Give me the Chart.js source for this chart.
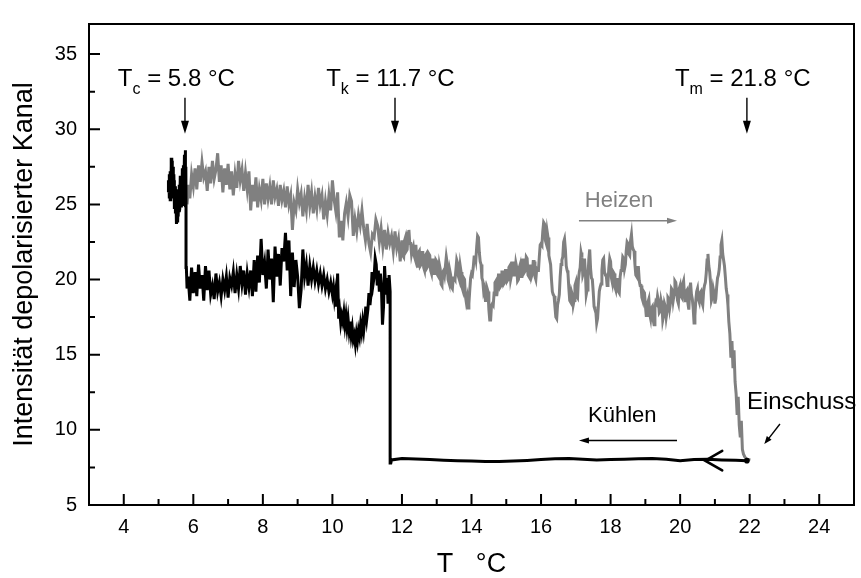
<!DOCTYPE html>
<html>
<head>
<meta charset="utf-8">
<script src="https://cdn.jsdelivr.net/npm/chart.js@4/dist/chart.umd.min.js"></script>
<style>
html,body{margin:0;padding:0;background:#fff;}
#wrap{width:861px;height:578px;position:relative;}
</style>
</head>
<body>
<div id="wrap"><canvas id="c" width="861" height="578"></canvas></div>
<script>
// ---- data ----
const xTickValues = [4,6,8,10,12,14,16,18,20,22,24];
const xMinorTicks = [5,7,9,11,13,15,17,19,21,23];
const yTickValues = [5,10,15,20,25,30,35];
const yMinorTicks = [7.5,12.5,17.5,22.5,27.5,32.5];

// Heizen (heating, grey)
const heatT = [5.82,5.86,5.90,5.95,6.00,6.05,6.10,6.15,6.20,6.25,6.30,6.35,6.40,6.45,6.50,6.55,6.60,6.65,6.70,6.75,6.80,6.85,6.90,6.95,7.00,7.05,7.10,7.15,7.20,7.25,7.30,7.35,7.40,7.45,7.50,7.55,7.60,7.65,7.70,7.75,7.80,7.85,7.90,7.95,8.00,8.05,8.10,8.15,8.20,8.25,8.30,8.35,8.40,8.45,8.50,8.55,8.60,8.65,8.70,8.75,8.80,8.85,8.90,8.95,9.00,9.05,9.10,9.15,9.20,9.25,9.30,9.35,9.40,9.45,9.50,9.55,9.60,9.65,9.70,9.75,9.80,9.85,9.90,9.95,10.00,10.05,10.10,10.15,10.20,10.25,10.30,10.35,10.40,10.45,10.50,10.55,10.60,10.65,10.70,10.75,10.80,10.85,10.90,10.95,11.00,11.05,11.10,11.15,11.20,11.25,11.30,11.35,11.40,11.45,11.50,11.55,11.60,11.65,11.70,11.75,11.80,11.85,11.90,11.95,
12.000,12.025,12.050,12.075,12.100,12.125,12.150,12.175,12.200,12.225,12.250,12.275,12.300,12.325,12.350,12.375,12.400,12.425,12.450,12.475,12.500,12.525,12.550,12.575,12.600,12.625,12.650,12.675,12.700,12.725,12.750,12.775,12.800,12.825,12.850,12.875,12.900,12.925,12.950,12.975,
13.000,13.025,13.050,13.075,13.100,13.125,13.150,13.175,13.200,13.225,13.250,13.275,13.300,13.325,13.350,13.375,13.400,13.425,13.450,13.475,13.500,13.525,13.550,13.575,13.600,13.625,13.650,13.675,13.700,13.725,13.750,13.775,13.800,13.825,13.850,13.875,13.900,13.925,13.950,13.975,
14.000,14.025,14.050,14.075,14.100,14.125,14.150,14.175,14.200,14.225,14.250,14.275,14.300,14.325,14.350,14.375,14.400,14.425,14.450,14.475,14.500,14.525,14.550,14.575,14.600,14.625,14.650,14.675,14.700,14.725,14.750,14.775,14.800,14.825,14.850,14.875,14.900,14.925,14.950,14.975,
15.000,15.025,15.050,15.075,15.100,15.125,15.150,15.175,15.200,15.225,15.250,15.275,15.300,15.325,15.350,15.375,15.400,15.425,15.450,15.475,15.500,15.525,15.550,15.575,15.600,15.625,15.650,15.675,15.700,15.725,15.750,15.775,15.800,15.825,15.850,15.875,15.900,15.925,15.950,15.975,
16.000,16.025,16.050,16.075,16.100,16.125,16.150,16.175,16.200,16.225,16.250,16.275,16.300,16.325,16.350,16.375,16.400,16.425,16.450,16.475,16.500,16.525,16.550,16.575,16.600,16.625,16.650,16.675,16.700,16.725,16.750,16.775,16.800,16.825,16.850,16.875,16.900,16.925,16.950,16.975,
17.000,17.025,17.050,17.075,17.100,17.125,17.150,17.175,17.200,17.225,17.250,17.275,17.300,17.325,17.350,17.375,17.400,17.425,17.450,17.475,17.500,17.525,17.550,17.575,17.600,17.625,17.650,17.675,17.700,17.725,17.750,17.775,17.800,17.825,17.850,17.875,17.900,17.925,17.950,17.975,
18.000,18.025,18.050,18.075,18.100,18.125,18.150,18.175,18.200,18.225,18.250,18.275,18.300,18.325,18.350,18.375,18.400,18.425,18.450,18.475,18.500,18.525,18.550,18.575,18.600,18.625,18.650,18.675,18.700,18.725,18.750,18.775,18.800,18.825,18.850,18.875,18.900,18.925,18.950,18.975,
19.000,19.025,19.050,19.075,19.100,19.125,19.150,19.175,19.200,19.225,19.250,19.275,19.300,19.325,19.350,19.375,19.400,19.425,19.450,19.475,19.500,19.525,19.550,19.575,19.600,19.625,19.650,19.675,19.700,19.725,19.750,19.775,19.800,19.825,19.850,19.875,19.900,19.925,19.950,19.975,
20.000,20.025,20.050,20.075,20.100,20.125,20.150,20.175,20.200,20.225,20.250,20.275,20.300,20.325,20.350,20.375,20.400,20.425,20.450,20.475,20.500,20.525,20.550,20.575,20.600,20.625,20.650,20.675,20.700,20.725,20.750,20.775,20.800,20.825,20.850,20.875,20.900,20.925,20.950,20.975,
21.000,21.025,21.050,21.075,21.100,21.125,21.150,21.175,21.200,21.225,21.250,21.275,21.300,21.325,21.350,21.375,21.400,21.43,21.46,21.49,21.52,21.55,21.58,21.61,21.64,21.67,21.70,21.73,21.76,21.79,21.82,21.86,21.92,22.02];
const heatI = [25.0,26.3,25.4,27.0,26.2,27.4,26.0,27.6,26.5,27.8,26.8,27.2,25.9,27.5,26.4,27.9,26.7,27.3,28.4,26.5,27.6,25.8,27.4,26.3,27.7,26.0,27.2,25.6,27.0,26.1,27.9,26.6,27.3,25.9,27.1,26.0,27.2,24.6,26.3,25.2,26.8,24.8,26.0,25.3,26.7,25.0,26.4,25.4,26.2,25.0,26.6,25.5,26.0,24.9,26.3,25.3,25.9,24.8,26.2,25.0,25.6,23.3,25.1,24.6,26.0,25.1,25.7,24.2,25.4,24.6,26.3,24.9,25.8,24.4,25.5,24.7,26.1,25.0,25.6,24.0,25.2,24.3,25.6,24.6,26.6,25.3,24.5,25.8,22.8,23.9,22.6,24.4,25.1,24.2,25.6,25.2,22.9,24.0,23.2,24.3,23.6,24.6,23.4,22.6,23.7,22.4,21.8,23.0,22.8,24.0,23.6,22.5,23.4,22.2,23.3,22.0,23.1,22.4,22.9,21.9,23.2,22.1,22.7,21.2,
22.6,21.6,21.5,22.6,22.8,21.9,22.0,23.1,23.3,22.4,22.4,21.7,22.0,22.2,21.6,21.4,22.3,21.3,20.8,21.8,21.9,20.9,21.0,21.8,21.8,20.8,20.6,21.6,21.7,20.8,20.9,21.7,21.6,20.6,20.4,21.3,21.3,20.4,20.5,21.3,
21.2,20.3,20.2,21.0,20.7,19.7,19.6,20.5,20.6,20.3,20.9,21.5,21.1,20.0,19.8,20.6,20.3,19.5,19.4,20.1,20.1,20.0,20.6,21.3,21.1,20.2,20.0,20.9,20.5,19.5,19.3,20.1,20.0,18.9,18.5,18.8,18.1,18.4,19.3,20.1,
20.4,20.3,20.8,21.5,21.6,21.3,22.2,22.9,22.8,21.8,21.2,21.0,20.1,19.9,19.2,19.4,18.6,18.6,19.4,19.2,18.0,17.3,17.3,18.3,18.4,18.3,19.1,19.8,19.9,18.9,19.4,20.3,20.3,19.5,19.6,20.5,20.5,19.7,19.8,20.6,
20.6,19.9,20.0,20.8,20.9,20.0,20.3,21.1,21.1,20.3,20.4,21.1,20.8,19.9,20.0,20.8,21.0,20.2,20.5,21.3,21.3,20.5,20.6,21.5,21.4,20.3,20.2,20.9,20.9,20.2,20.4,21.2,21.2,20.2,20.0,20.7,20.6,20.6,21.5,22.3,
22.4,22.3,23.2,23.8,23.7,22.6,22.4,23.2,22.8,21.6,21.3,21.0,20.0,19.2,19.0,18.9,18.2,17.5,17.4,18.3,18.6,19.0,20.2,21.0,21.3,21.5,22.5,22.7,22.0,20.9,20.6,20.4,19.4,18.6,18.5,19.2,19.0,18.3,18.6,19.6,
19.8,18.9,18.8,20.0,20.5,20.8,21.8,21.5,20.3,20.5,21.4,20.5,19.0,19.3,20.2,21.4,22.0,20.7,20.1,20.0,19.2,18.2,18.0,17.9,17.1,17.4,18.3,19.2,19.5,19.7,20.6,21.3,21.4,20.5,20.3,20.3,19.6,19.8,20.8,21.4,
21.2,20.1,19.8,20.5,20.4,19.5,19.3,20.0,20.0,19.2,19.1,20.2,20.6,20.8,21.5,21.4,20.7,21.0,21.9,22.5,22.4,21.7,21.6,22.6,23.0,22.2,22.0,21.9,21.0,20.3,20.2,20.8,20.8,19.9,19.6,19.6,18.8,18.6,19.2,19.1,
18.3,17.6,17.6,18.5,18.7,17.7,17.4,18.1,18.2,17.3,17.0,18.1,18.5,18.4,18.9,18.6,17.8,17.9,18.6,18.3,17.3,17.6,18.4,18.2,17.5,17.9,18.8,18.7,18.1,18.5,19.4,19.3,18.6,19.0,19.9,19.8,19.2,18.6,18.4,19.4,
19.6,18.9,18.8,19.7,19.9,19.0,18.5,19.2,19.3,18.4,18.0,19.2,19.8,19.0,18.7,18.1,17.1,17.6,18.6,19.2,19.4,18.7,18.5,19.1,19.2,18.5,18.3,19.2,19.6,19.8,20.4,21.3,21.7,20.9,20.5,19.8,18.6,18.8,19.4,19.1,
18.4,18.7,19.5,20.1,20.3,20.7,21.5,22.3,22.6,21.7,21.3,20.9,20.2,19.4,19.0,18.3,17.2,16.4,14.8,15.9,14.1,15.3,13.2,12.4,11.0,12.2,10.3,9.5,10.6,8.7,8.4,8.2,8.05,8.0];

// Kühlen (cooling, black) - in measurement order, from 22 °C downwards
const coolT = [21.92,21.6,21.2,20.8,20.4,20.0,19.6,19.2,18.8,18.4,18.0,17.6,17.2,16.8,16.4,16.0,15.6,15.2,14.8,14.4,14.0,13.6,13.2,12.8,12.4,12.0,11.70,11.68,11.66,11.63,11.60,11.57,11.54,11.50,11.47,11.44,11.41,11.38,11.35,11.32,11.29,11.26,11.23,11.20,11.17,11.14,11.11,11.08,11.05,11.02,10.99,10.96,10.93,10.90,10.87,10.84,10.81,10.78,10.75,10.72,10.69,10.66,10.63,10.60,10.57,10.54,10.51,10.48,10.45,10.42,10.39,10.36,10.33,10.30,10.27,10.24,10.21,10.18,10.15,10.12,10.09,10.06,10.03,10.00,9.95,9.90,9.85,9.80,9.75,9.70,9.65,9.60,9.55,9.50,9.45,9.40,9.35,9.30,9.25,9.20,9.15,9.10,9.05,9.00,8.95,8.90,8.85,8.80,8.75,8.70,8.65,8.60,8.55,8.50,8.45,8.40,8.35,8.30,8.25,8.20,8.15,8.10,8.05,8.00,7.95,7.90,7.85,7.80,7.75,7.70,7.65,7.60,7.55,7.50,7.45,7.40,7.35,7.30,7.25,7.20,7.15,7.10,7.05,7.00,6.95,6.90,6.85,6.80,6.75,6.70,6.65,6.60,6.55,6.50,6.45,6.40,6.35,6.30,6.25,6.20,6.15,6.10,6.05,6.00,5.95,5.90,5.85,5.82,5.80,5.79,
5.785,5.78,5.775,5.77,5.765,5.76,5.755,5.75,5.745,5.74,5.735,5.73,5.72,5.71,5.70,5.69,5.68,5.67,5.66,5.65,5.64,5.63,5.62,5.61,5.60,5.59,5.58,5.57,5.56,5.55,5.54,5.53,5.52,5.51,5.50,5.49,5.48,5.47,5.46,5.45,5.44,5.43,5.42,5.41,5.40,5.39,5.38,5.37,5.36,5.35,5.34,5.33,5.32,5.31,5.30,5.29,5.28];
const coolI = [7.95,7.97,8.0,8.05,8.02,7.95,8.05,8.1,8.08,8.05,8.02,8.0,8.05,8.1,8.08,8.02,7.96,7.92,7.9,7.9,7.92,7.95,7.98,8.02,8.06,8.1,8.0,7.8,19.2,20.3,18.4,20.1,19.0,20.9,18.2,17.0,19.5,20.4,19.2,20.6,19.6,21.0,21.4,20.2,19.7,20.5,19.0,18.3,19.1,18.0,17.4,18.2,17.3,16.6,17.2,16.5,17.0,16.2,16.6,15.9,16.4,15.7,16.3,16.0,16.8,16.3,17.2,16.6,17.4,16.8,17.6,17.0,17.8,17.2,17.6,17.1,17.9,17.4,20.4,18.2,19.2,18.7,19.5,19.0,19.8,19.2,20.0,19.4,20.3,19.6,20.4,19.7,20.6,19.9,20.8,20.0,20.9,19.6,21.0,20.2,22.0,19.3,18.1,20.2,21.3,19.5,21.8,18.9,22.6,20.6,23.1,21.2,22.1,19.6,21.7,20.2,22.2,18.5,21.4,20.0,22.0,19.4,21.1,20.3,22.7,19.8,21.6,19.2,21.3,18.9,20.6,19.5,20.4,19.0,20.6,19.7,20.9,19.4,20.3,19.1,20.5,19.6,20.1,18.8,20.2,19.3,20.0,18.9,19.8,19.2,20.4,18.7,19.6,19.0,20.6,19.3,20.9,18.6,20.3,19.4,21.0,18.9,20.5,19.1,20.8,18.6,20.2,19.4,20.8,25.2,
27.5,24.8,28.2,25.6,28.6,26.0,27.4,24.9,27.9,25.3,28.3,26.2,27.6,25.0,27.1,25.8,27.4,25.2,26.7,24.8,26.5,25.4,26.9,24.7,26.3,24.5,26.0,24.2,25.6,23.9,25.3,24.1,25.8,23.7,25.5,24.4,26.2,24.8,26.6,25.0,27.0,25.4,27.5,25.8,27.9,26.1,28.1,25.7,27.6,25.3,27.2,25.6,27.0,25.4,26.6,25.8,26.4];

// annotation data
const markerT = [5.76, 11.80, 21.92];
const markerSub = ['c', 'k', 'm'];
const markerVal = ['5.8', '11.7', '21.8'];
const markerTextT = [3.83, 9.82, 19.85];

const FONT = '"Liberation Sans", Arial, Helvetica, sans-serif';
const GREY = 'rgb(128,128,128)';

function arrow(ctx, x1, y1, x2, y2, color, lw, hl, hw) {
  const ang = Math.atan2(y2 - y1, x2 - x1);
  ctx.save();
  ctx.strokeStyle = color; ctx.fillStyle = color; ctx.lineWidth = lw;
  ctx.beginPath();
  ctx.moveTo(x1, y1);
  ctx.lineTo(x2 - Math.cos(ang) * hl * 0.8, y2 - Math.sin(ang) * hl * 0.8);
  ctx.stroke();
  ctx.beginPath();
  ctx.moveTo(x2, y2);
  ctx.lineTo(x2 - Math.cos(ang) * hl - Math.sin(ang) * hw, y2 - Math.sin(ang) * hl + Math.cos(ang) * hw);
  ctx.lineTo(x2 - Math.cos(ang) * hl + Math.sin(ang) * hw, y2 - Math.sin(ang) * hl - Math.cos(ang) * hw);
  ctx.closePath();
  ctx.fill();
  ctx.restore();
}

const decor = {
  id: 'decor',
  afterDatasetsDraw(chart) {
    const {ctx, chartArea: a, scales: {x, y}} = chart;
    const px = v => x.getPixelForValue(v), py = v => y.getPixelForValue(v);
    ctx.save();
    ctx.strokeStyle = '#000'; ctx.lineWidth = 2;
    ctx.strokeRect(a.left, a.top, a.right - a.left, a.bottom - a.top);
    ctx.beginPath();
    xTickValues.forEach(v => { ctx.moveTo(px(v), a.bottom); ctx.lineTo(px(v), a.bottom - 11); });
    xMinorTicks.forEach(v => { ctx.moveTo(px(v), a.bottom); ctx.lineTo(px(v), a.bottom - 6); });
    yTickValues.forEach(v => { ctx.moveTo(a.left, py(v)); ctx.lineTo(a.left + 11, py(v)); });
    yMinorTicks.forEach(v => { ctx.moveTo(a.left, py(v)); ctx.lineTo(a.left + 6, py(v)); });
    ctx.stroke();

    ctx.fillStyle = '#000';
    ctx.beginPath(); ctx.arc(px(21.92), py(7.95), 2.8, 0, Math.PI * 2); ctx.fill();
    ctx.lineWidth = 2.6; ctx.lineCap = 'round';
    ctx.beginPath();
    ctx.moveTo(px(21.21), py(8.6)); ctx.lineTo(px(20.72), py(7.95)); ctx.lineTo(px(21.21), py(7.3));
    ctx.stroke();
    ctx.lineCap = 'butt';

    ctx.fillStyle = '#000';
    ctx.textBaseline = 'alphabetic';
    ctx.textAlign = 'left';
    for (let i = 0; i < markerT.length; i++) {
      let tx = px(markerTextT[i]);
      const base = py(32.87);
      ctx.font = '24px ' + FONT;
      ctx.fillText('T', tx, base);
      tx += ctx.measureText('T').width;
      ctx.font = '16px ' + FONT;
      ctx.fillText(markerSub[i], tx, base + 8);
      tx += ctx.measureText(markerSub[i]).width;
      ctx.font = '24px ' + FONT;
      ctx.fillText(' = ' + markerVal[i] + ' °C', tx, base);
      arrow(ctx, px(markerT[i]), py(32.1), px(markerT[i]), py(29.7), '#000', 1.4, 13, 4);
    }

    ctx.font = '22px ' + FONT;
    ctx.fillStyle = GREY;
    ctx.fillText('Heizen', px(17.26), py(24.82));
    arrow(ctx, px(17.09), py(23.91), px(19.91), py(23.91), GREY, 1.4, 10, 3);
    ctx.fillStyle = '#000';
    ctx.fillText('Kühlen', px(17.35), py(10.52));
    arrow(ctx, px(19.91), py(9.29), px(17.09), py(9.29), '#000', 1.4, 10, 3);
    ctx.font = '24px ' + FONT;
    ctx.fillText('Einschuss', px(21.92), py(11.37));
    arrow(ctx, px(22.87), py(10.39), px(22.42), py(9.05), '#000', 1.4, 8, 3);
    ctx.restore();
  }
};

const heatData = heatT.map((t, i) => ({x: t, y: heatI[i]}));
const coolData = coolT.map((t, i) => ({x: t, y: coolI[i]}));

new Chart(document.getElementById('c'), {
  type: 'line',
  data: {
    datasets: [
      {label: 'Kühlen', data: coolData, borderColor: '#000', borderWidth: 3, pointRadius: 0, tension: 0, order: 0, fill: false},
      {label: 'Heizen', data: heatData, borderColor: GREY, borderWidth: 3, pointRadius: 0, tension: 0, order: 1, fill: false}
    ]
  },
  options: {
    responsive: false,
    animation: false,
    parsing: false,
    normalized: true,
    layout: {padding: {left: 0, right: 7, top: 12, bottom: 0}},
    plugins: {legend: {display: false}, tooltip: {enabled: false}},
    scales: {
      x: {
        type: 'linear', min: 3, max: 25,
        grid: {display: false, drawTicks: false, tickLength: 0},
        border: {display: false},
        afterBuildTicks: s => { s.ticks = xTickValues.map(v => ({value: v})); },
        afterFit: s => { s.height = 73; },
        ticks: {color: '#000', font: {family: FONT, size: 20}, padding: 10, maxRotation: 0, autoSkip: false},
        title: {display: true, text: 'T   °C', color: '#000', font: {family: FONT, size: 27, lineHeight: 1}, padding: {top: 0, bottom: 0}}
      },
      y: {
        type: 'linear', min: 5, max: 37,
        grid: {display: false, drawTicks: false, tickLength: 0},
        border: {display: false},
        afterBuildTicks: s => { s.ticks = yTickValues.map(v => ({value: v})); },
        afterFit: s => { s.width = 89; },
        ticks: {color: '#000', font: {family: FONT, size: 20}, padding: 12, autoSkip: false},
        title: {display: true, text: 'Intensität depolarisierter Kanal', color: '#000', font: {family: FONT, size: 27, lineHeight: 1}, padding: {top: 11, bottom: 0}}
      }
    }
  },
  plugins: [decor]
});
</script>
</body>
</html>
